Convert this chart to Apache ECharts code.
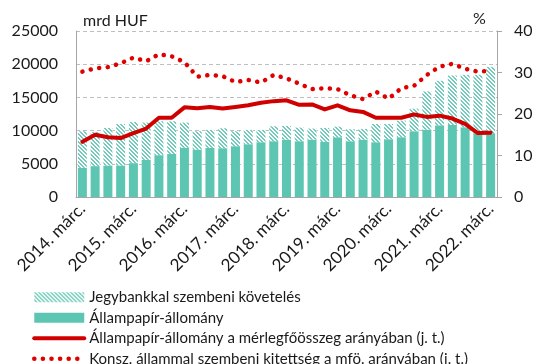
<!DOCTYPE html>
<html>
<head>
<meta charset="utf-8">
<script src="https://cdn.jsdelivr.net/npm/echarts@6/dist/echarts.min.js"></script>
<style>html,body{margin:0;padding:0;background:#fff;}#c{width:547px;height:364px;}</style>
</head>
<body>
<div id="c"></div>
<script>
var categories = [
 "2014. márc.","2014. jún.","2014. szept.","2014. dec.",
 "2015. márc.","2015. jún.","2015. szept.","2015. dec.",
 "2016. márc.","2016. jún.","2016. szept.","2016. dec.",
 "2017. márc.","2017. jún.","2017. szept.","2017. dec.",
 "2018. márc.","2018. jún.","2018. szept.","2018. dec.",
 "2019. márc.","2019. jún.","2019. szept.","2019. dec.",
 "2020. márc.","2020. jún.","2020. szept.","2020. dec.",
 "2021. márc.","2021. jún.","2021. szept.","2021. dec.",
 "2022. márc."
];
// Állampapír-állomány (mrd HUF)
var allampapir = [4400,4650,4750,4750,5100,5600,6300,6500,7400,7150,7400,7350,7650,7950,8250,8400,8650,8400,8650,8300,9000,8400,8650,8250,8700,9000,9900,10150,10800,10850,10500,9500,9500];
// Jegybankkal szembeni követelés (mrd HUF)
var jegybank = [5500,5150,5650,6250,6200,5600,5100,4900,3800,2750,2700,3000,2250,2150,1850,2250,2050,2050,1650,2100,1600,1800,1600,2750,2300,2500,3400,5750,6700,7450,7900,8900,10100];
// Állampapír-állomány a mérlegfőösszeg arányában (%)
var aranyMfo = [13.3,15.0,14.4,14.2,15.4,16.5,19.1,19.1,21.6,21.4,21.7,21.3,21.7,22.1,22.7,23.1,23.3,22.2,22.3,21.1,22.1,20.9,20.5,19.1,19.1,19.1,19.9,19.3,19.6,18.9,17.6,15.4,15.5];
// Konsz. állammal szembeni kitettség a mfö. arányában (%)
var kitettseg = [30.2,31.0,31.3,32.2,33.6,32.7,34.4,33.9,32.5,29.0,29.4,29.1,27.7,28.2,27.6,29.4,28.6,27.3,26.0,26.2,26.0,24.5,23.6,25.4,23.7,26.2,26.8,29.4,31.4,32.1,30.9,30.2,30.4];
var leftTicks = [0,5000,10000,15000,20000,25000];
var rightTicks = [0,10,20,30,40];

var TEAL = '#5cc6b2';
var RED = '#d00000';
var FONT = 'Lato';

function hatch(){
  var c = document.createElement('canvas');
  c.width = 4; c.height = 4;
  var g = c.getContext('2d');
  g.fillStyle = '#ffffff'; g.fillRect(0,0,4,4);
  g.fillStyle = '#72cbbb';
  for (var x=0;x<4;x++) for (var y=0;y<4;y++) {
    if ((((x-y)%4)+4)%4 < 2) g.fillRect(x,y,1,1);
  }
  return c;
}

var chart = echarts.init(document.getElementById('c'), null, {renderer:'canvas'});
chart.setOption({
  animation:false,
  textStyle:{fontFamily:FONT},
  grid:{left:76,right:50,top:31,bottom:167,containLabel:false},
  graphic:[
    {type:'text',left:83,top:13,style:{text:'mrd HUF',font:'16px '+FONT,fill:'#1a1a1a'}},
    {type:'text',left:473,top:11,style:{text:'%',font:'16px '+FONT,fill:'#1a1a1a'}}
  ],
  legend:{
    orient:'vertical',left:32,top:288,height:84,padding:0,itemWidth:50,itemHeight:10,itemGap:2,
    textStyle:{fontSize:15,fontFamily:FONT,color:'#1a1a1a',lineHeight:18.5},
    data:[
      {name:'Jegybankkal szembeni követelés',icon:'rect'},
      {name:'Állampapír-állomány',icon:'rect'},
      {name:'Állampapír-állomány a mérlegfőösszeg arányában (j. t.)',itemStyle:{opacity:0},lineStyle:{width:4}},
      {name:'Konsz. állammal szembeni kitettség a mfö. arányában (j. t.)',itemStyle:{opacity:0},lineStyle:{width:4.5}}
    ]
  },
  xAxis:{
    type:'category',data:categories,boundaryGap:true,
    axisLine:{lineStyle:{color:'#a6a6a6',width:1}},
    axisTick:{show:false},
    axisLabel:{interval:3,rotate:45,fontSize:17,color:'#1a1a1a',margin:9,fontFamily:FONT}
  },
  yAxis:[
    {type:'value',min:leftTicks[0],max:leftTicks[leftTicks.length-1],interval:5000,
     axisLine:{show:true,lineStyle:{color:'#a6a6a6'}},axisTick:{show:false},
     axisLabel:{fontSize:16,color:'#1a1a1a',margin:18,fontFamily:FONT,formatter:function(v){return String(v);}},
     splitLine:{show:true,lineStyle:{color:'#bfbfbf',type:[4,3],width:1}}},
    {type:'value',min:rightTicks[0],max:rightTicks[rightTicks.length-1],interval:10,position:'right',
     axisLine:{show:true,lineStyle:{color:'#a6a6a6'}},axisTick:{show:true,inside:false,length:5,lineStyle:{color:'#a6a6a6'}},
     axisLabel:{fontSize:16,color:'#1a1a1a',margin:17,fontFamily:FONT,formatter:function(v){return String(v);}},
     splitLine:{show:false}}
  ],
  series:[
    {name:'Állampapír-állomány',type:'bar',stack:'a',data:allampapir,barWidth:9,
     itemStyle:{color:TEAL}},
    {name:'Jegybankkal szembeni követelés',type:'bar',stack:'a',data:jegybank,barWidth:9,
     itemStyle:{color:{image:hatch(),repeat:'repeat'}}},
    {name:'Állampapír-állomány a mérlegfőösszeg arányában (j. t.)',type:'line',yAxisIndex:1,data:aranyMfo,
     symbol:'none',lineStyle:{color:RED,width:4,join:'round',cap:'round'},itemStyle:{color:RED},z:5},
    {name:'Konsz. állammal szembeni kitettség a mfö. arányában (j. t.)',type:'line',yAxisIndex:1,data:kitettseg,
     symbol:'none',lineStyle:{color:'#e00000',width:4.5,type:[0.1,8.5],cap:'round'},itemStyle:{color:'#e00000'},z:6}
  ]
});
</script>
</body>
</html>
